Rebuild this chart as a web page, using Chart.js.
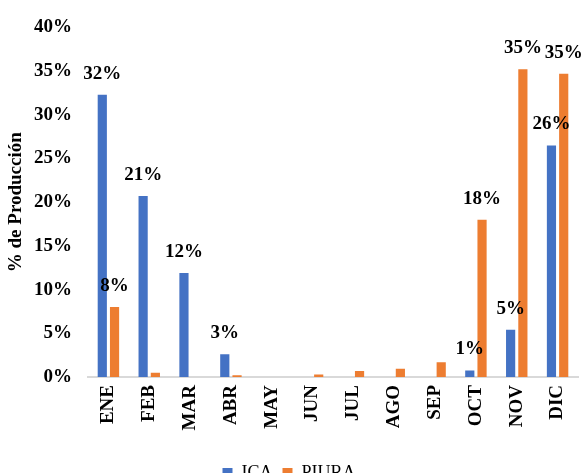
<!DOCTYPE html>
<html>
<head>
<meta charset="utf-8">
<script src="https://cdn.jsdelivr.net/npm/chart.js@4.4.0/dist/chart.umd.min.js"></script>
<style>
  html, body { margin: 0; padding: 0; background: #fff; overflow: hidden; }
  #wrap { width: 582px; height: 473px; overflow: hidden; }
  #box { width: 582px; height: 492px; }
</style>
</head>
<body>
<div id="wrap"><div id="box"><canvas id="chart"></canvas></div></div>
<script>
const months = ["ENE", "FEB", "MAR", "ABR", "MAY", "JUN", "JUL", "AGO", "SEP", "OCT", "NOV", "DIC"];
const icaValues = [32.3, 20.7, 11.9, 2.6, 0, 0, 0, 0, 0, 0.75, 5.4, 26.5];
const piuraValues = [8.0, 0.5, 0, 0.2, 0, 0.3, 0.7, 0.95, 1.7, 18.0, 35.2, 34.7];
const icaLabels = ["32%", "21%", "12%", "3%", null, null, null, null, null, "1%", "5%", "26%"];
const piuraLabels = ["8%", null, null, null, null, null, null, null, null, "18%", "35%", "35%"];
const yTicks = [0, 5, 10, 15, 20, 25, 30, 35, 40];

const serif = "'Liberation Serif', 'Times New Roman', serif";

// value labels above the bars (only the ones shown in the original)
const barLabels = {
  id: "barLabels",
  afterDatasetsDraw(chart) {
    const ctx = chart.ctx;
    const sets = [icaLabels, piuraLabels];
    ctx.save();
    ctx.font = "bold 19px " + serif;
    ctx.fillStyle = "#000";
    ctx.textAlign = "center";
    ctx.textBaseline = "alphabetic";
    sets.forEach((labels, di) => {
      chart.getDatasetMeta(di).data.forEach((bar, i) => {
        if (labels[i]) ctx.fillText(labels[i], bar.x, bar.y - 16);
      });
    });
    ctx.restore();
  }
};

new Chart(document.getElementById("chart"), {
  type: "bar",
  data: {
    labels: months,
    datasets: [
      { label: "ICA", data: icaValues, backgroundColor: "#4472C4", borderWidth: 0 },
      { label: "PIURA", data: piuraValues, backgroundColor: "#ED7D31", borderWidth: 0 }
    ]
  },
  options: {
    responsive: true,
    maintainAspectRatio: false,
    animation: false,
    datasets: { bar: { categoryPercentage: 0.6, barPercentage: 0.75 } },
    layout: { padding: { top: 8, right: 4, left: 0, bottom: 0 } },
    plugins: {
      legend: {
        position: "bottom",
        labels: {
          font: { family: serif, size: 18 },
          color: "#000",
          boxWidth: 10,
          boxHeight: 10,
          padding: 10
        }
      },
      tooltip: { enabled: false }
    },
    scales: {
      x: {
        grid: { display: false, drawTicks: false },
        border: { color: "#d9d9d9", width: 2 },
        ticks: {
          color: "#000",
          font: { family: serif, size: 19, weight: "bold" },
          maxRotation: 90,
          minRotation: 90,
          padding: 8
        },
        afterFit(scale) {
          scale.height = 77;
          scale.paddingLeft = 0;
          scale.paddingRight = 0;
        }
      },
      y: {
        min: 0,
        max: 40,
        grid: { display: false, drawTicks: false },
        border: { display: false },
        afterBuildTicks(scale) { scale.ticks = yTicks.map(v => ({ value: v })); },
        afterFit(scale) { scale.width = 88; },
        ticks: {
          color: "#000",
          font: { family: serif, size: 19, weight: "bold" },
          padding: 16,
          callback: v => v + "%"
        },
        title: {
          display: true,
          text: "% de Producción",
          color: "#000",
          font: { family: serif, size: 19, weight: "bold" },
          padding: 5
        }
      }
    }
  },
  plugins: [barLabels]
});
</script>
</body>
</html>
